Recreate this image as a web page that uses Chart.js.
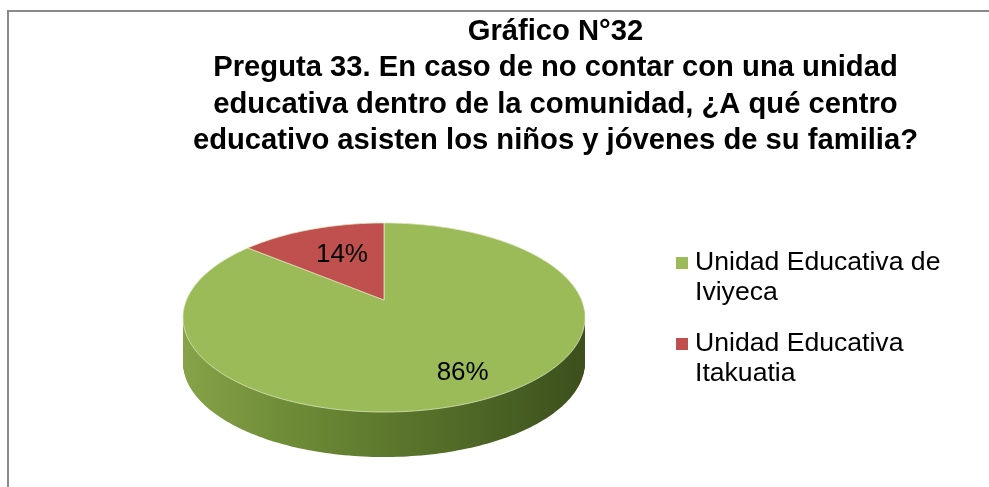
<!DOCTYPE html>
<html lang="es">
<head>
<meta charset="utf-8">
<title>Gráfico N°32</title>
<script src="https://cdn.jsdelivr.net/npm/chart.js@4"></script>
<style>
  html, body { margin: 0; padding: 0; background: #fff; }
  #wrap { position: relative; width: 989px; height: 487px; overflow: hidden; }
  #legend { position: absolute; left: 676px; top: 246px; width: 290px; margin: 0; padding: 0; list-style: none;
    font: 26.6px/30px "Liberation Sans", Arial, sans-serif; color: #000; }
  #legend li { position: relative; padding-left: 19px; margin-bottom: 21px; }
  #legend i { position: absolute; left: 0; top: 11px; width: 12px; height: 12px; }
</style>
</head>
<body>
<div id="wrap">
  <canvas id="pie" width="989" height="487"></canvas>
  <ul id="legend"></ul>
</div>
<script>
const categories = ['Unidad Educativa de Iviyeca', 'Unidad Educativa Itakuatia'];
const percentages = [86, 14];
const sliceColors = ['#9bbb59', '#c0504d'];
const titleLines = [
  'Gráfico N°32',
  'Preguta 33. En caso de no contar con una unidad',
  'educativa dentro de la comunidad, ¿A qué centro',
  'educativo asisten los niños y jóvenes de su familia?'
];

// Perspective of the tilted disc: centre, radii, tilt and rim depth
const pieView = { x: 384, y: 300, rx: 197.5, ry: 91.3, tilt: 0.185, depth: 45 };

function project(u, v) {
  const w = 1 - pieView.tilt * v;
  return { x: pieView.x + pieView.rx * u / w, y: pieView.y + pieView.ry * v / w };
}

function arcPoints(start, end) {
  const pts = [];
  const steps = Math.ceil((end - start) / 0.02);
  for (let i = 0; i <= steps; i++) {
    const a = start + (end - start) * i / steps;
    pts.push(project(Math.cos(a), Math.sin(a)));
  }
  return pts;
}

function tracePath(ctx, pts, dy) {
  ctx.beginPath();
  pts.forEach((p, i) => {
    if (i === 0) ctx.moveTo(p.x, p.y + dy);
    else ctx.lineTo(p.x, p.y + dy);
  });
  ctx.closePath();
}

// Draws the arcs the doughnut controller computed, as a 3D disc
const pie3d = {
  id: 'pie3d',
  beforeDatasetsDraw(chart) {
    const ctx = chart.ctx;
    const arcs = chart.getDatasetMeta(0).data;
    const rim = arcPoints(0, Math.PI * 2);

    ctx.save();
    const grad = ctx.createLinearGradient(pieView.x - 201, 0, pieView.x + 201, 0);
    grad.addColorStop(0, '#86a348');
    grad.addColorStop(0.25, '#6f8d38');
    grad.addColorStop(0.55, '#5a752b');
    grad.addColorStop(0.85, '#465c22');
    grad.addColorStop(1, '#3c4f1c');
    ctx.fillStyle = grad;
    for (let d = pieView.depth; d > 0; d--) {
      tracePath(ctx, rim, d);
      ctx.fill();
    }

    arcs.forEach((arc, i) => {
      const pts = [project(0, 0)].concat(arcPoints(arc.startAngle, arc.endAngle));
      tracePath(ctx, pts, 0);
      ctx.fillStyle = sliceColors[i];
      ctx.fill();
      ctx.strokeStyle = 'rgba(225,232,195,0.75)';
      ctx.lineWidth = 1;
      ctx.stroke();
    });

    const labelRadius = [0.8, 0.56];
    ctx.fillStyle = '#000';
    ctx.font = '26px "Liberation Sans", Arial, sans-serif';
    ctx.textAlign = 'center';
    ctx.textBaseline = 'middle';
    arcs.forEach((arc, i) => {
      const mid = (arc.startAngle + arc.endAngle) / 2;
      const p = project(labelRadius[i] * Math.cos(mid), labelRadius[i] * Math.sin(mid));
      ctx.fillText(percentages[i] + '%', p.x + 1, p.y - 3);
    });
    ctx.restore();
    return false;
  },
  // Grey frame of the chart box
  beforeDraw(chart) {
    const ctx = chart.ctx;
    ctx.save();
    ctx.strokeStyle = '#8a8a8a';
    ctx.lineWidth = 2;
    ctx.beginPath();
    ctx.moveTo(8, 487);
    ctx.lineTo(8, 11);
    ctx.lineTo(989, 11);
    ctx.stroke();
    ctx.restore();
  }
};

new Chart(document.getElementById('pie'), {
  type: 'pie',
  data: {
    labels: categories,
    datasets: [{ data: percentages, backgroundColor: sliceColors }]
  },
  options: {
    responsive: false,
    animation: false,
    layout: { padding: { left: 122, top: 12 } },
    plugins: {
      legend: { display: false },
      tooltip: { enabled: false },
      title: {
        display: true,
        text: titleLines,
        color: '#000',
        padding: { top: 2, bottom: 0 },
        font: { family: '"Liberation Sans", Arial, sans-serif', size: 29.2, weight: 'bold', lineHeight: 1.24 }
      }
    }
  },
  plugins: [pie3d]
});

// Legend wraps like the original, so it is plain HTML
const legend = document.getElementById('legend');
categories.forEach((name, i) => {
  const item = document.createElement('li');
  const box = document.createElement('i');
  box.style.background = sliceColors[i];
  item.appendChild(box);
  item.appendChild(document.createTextNode(name));
  legend.appendChild(item);
});
</script>
</body>
</html>
